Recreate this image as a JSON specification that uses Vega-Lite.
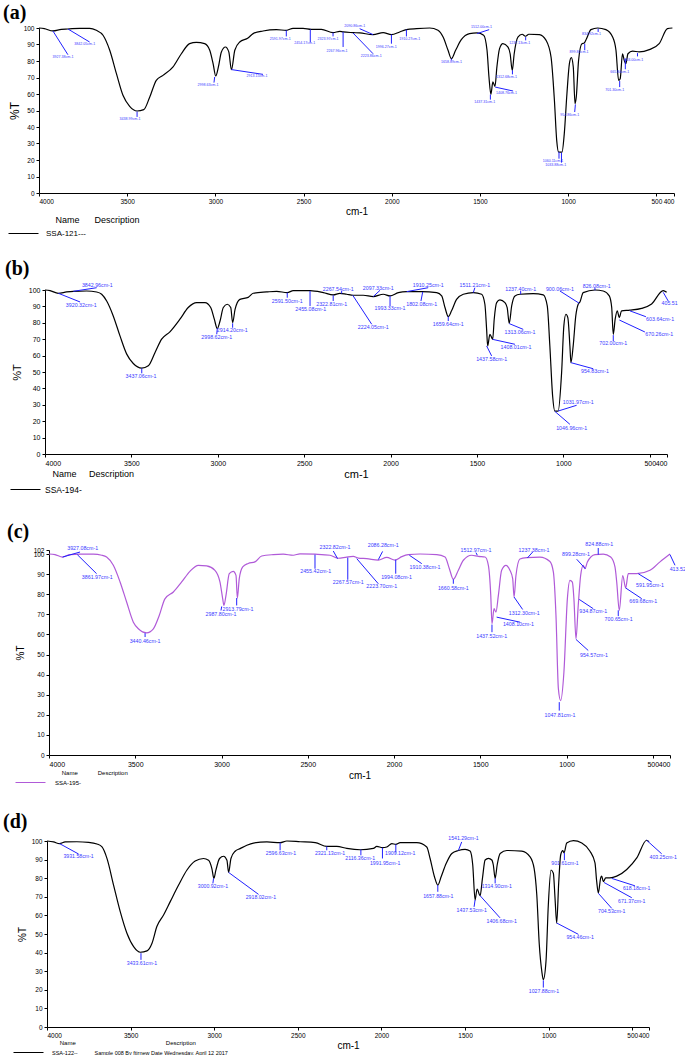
{
"$schema": "https://vega.github.io/schema/vega-lite/v6.json",
"padding": {"left": 0, "top": 3, "right": 0, "bottom": 0},
"spacing": 27,
"background": "white",
"resolve": {"scale": {"color": "independent"}, "legend": {"color": "independent"}},
"config": {
  "view": {"stroke": null},
  "axis": {"domainColor": "black", "tickColor": "black", "labelColor": "black", "titleColor": "black", "grid": false, "labelFont": "Liberation Sans", "titleFont": "Liberation Sans", "titleFontWeight": "normal", "tickSize": 3, "labelPadding": 2, "labelOverlap": false, "labelBound": false},
  "legend": {"orient": "none", "titleFont": "Liberation Sans", "labelFont": "Liberation Sans", "titleFontWeight": "normal", "titleColor": "black", "labelColor": "black", "symbolType": "stroke", "symbolSize": 900, "symbolStrokeWidth": 1, "padding": 0, "titleLimit": 600, "labelLimit": 600},
  "title": {"anchor": "start", "frame": "group", "font": "Liberation Serif", "fontSize": 20, "fontWeight": "bold", "color": "black"}
},
"datasets": {
"a": [{"w":4000,"t":100},{"w":3970,"t":99.6},{"w":3921,"t":98.2},{"w":3873,"t":99.2},{"w":3836,"t":99.4},{"w":3769,"t":99.8},{"w":3713,"t":99.8},{"w":3675,"t":98.6},{"w":3637,"t":95.6},{"w":3599,"t":86.5},{"w":3561,"t":72.3},{"w":3524,"t":59.2},{"w":3486,"t":52.5},{"w":3444,"t":49.7},{"w":3406,"t":50.5},{"w":3372,"t":58.2},{"w":3335,"t":68.3},{"w":3297,"t":71.3},{"w":3240,"t":76.4},{"w":3193,"t":84.4},{"w":3146,"t":90.5},{"w":3108,"t":91.3},{"w":3061,"t":90.5},{"w":3032,"t":86.5},{"w":3013,"t":78.4},{"w":2998,"t":70.9},{"w":2983,"t":76.4},{"w":2966,"t":85.5},{"w":2943,"t":88.5},{"w":2924,"t":85.5},{"w":2909,"t":74.7},{"w":2890,"t":86.5},{"w":2862,"t":91.5},{"w":2815,"t":93.9},{"w":2786,"t":96.6},{"w":2730,"t":98.2},{"w":2654,"t":99},{"w":2597,"t":98.6},{"w":2560,"t":99.8},{"w":2503,"t":99.8},{"w":2456,"t":99.2},{"w":2399,"t":99.2},{"w":2333,"t":97.2},{"w":2295,"t":98},{"w":2276,"t":97.6},{"w":2219,"t":97.2},{"w":2181,"t":97},{"w":2106,"t":96},{"w":2049,"t":97.2},{"w":2002,"t":96},{"w":1955,"t":97.6},{"w":1917,"t":99},{"w":1860,"t":99.6},{"w":1785,"t":100},{"w":1738,"t":98.6},{"w":1709,"t":94.5},{"w":1681,"t":86.5},{"w":1662,"t":81.4},{"w":1638,"t":86.5},{"w":1606,"t":92.9},{"w":1559,"t":96.6},{"w":1517,"t":97},{"w":1479,"t":95.6},{"w":1460,"t":86.5},{"w":1449,"t":70.3},{"w":1438,"t":59.8},{"w":1427,"t":67.3},{"w":1415,"t":64.6},{"w":1404,"t":76.4},{"w":1389,"t":87.5},{"w":1370,"t":90.5},{"w":1342,"t":88.5},{"w":1329,"t":84.4},{"w":1317,"t":74.3},{"w":1306,"t":84.4},{"w":1285,"t":94.5},{"w":1261,"t":96.2},{"w":1242,"t":95},{"w":1223,"t":96.2},{"w":1163,"t":96},{"w":1125,"t":92.5},{"w":1097,"t":82.4},{"w":1078,"t":56.2},{"w":1065,"t":31.9},{"w":1054,"t":24.8},{"w":1035,"t":24.8},{"w":1022,"t":36},{"w":1007,"t":60.2},{"w":993,"t":78.4},{"w":982,"t":82},{"w":971,"t":76.4},{"w":961,"t":54.1},{"w":954,"t":58.2},{"w":941,"t":80.4},{"w":922,"t":90.5},{"w":909,"t":90.9},{"w":896,"t":93.5},{"w":871,"t":99},{"w":833,"t":100},{"w":786,"t":99},{"w":748,"t":94.5},{"w":729,"t":86.5},{"w":714,"t":68.3},{"w":705,"t":69.3},{"w":692,"t":84.4},{"w":682,"t":80.4},{"w":673,"t":78.4},{"w":661,"t":84.4},{"w":635,"t":86},{"w":597,"t":85.5},{"w":540,"t":86.9},{"w":484,"t":90.5},{"w":437,"t":99.6},{"w":409,"t":100}],
"la": [{"l":"3927.38cm-1","w":3921,"t":98.2,"ew":3836,"et":83.8,"lw":3864,"lt":82.4},{"l":"3842.05cm-1","w":3836,"t":99.4,"ew":3713,"et":91.5,"lw":3741,"lt":90.5},{"l":"3438.99cm-1","w":3444,"t":49.3,"ew":3444,"et":46.1,"lw":3484,"lt":44.9},{"l":"2998.63cm-1","w":3004,"t":70.3,"ew":3008,"et":66.9,"lw":3042,"lt":65.3},{"l":"2913.15cm-1","w":2909,"t":74.8,"ew":2730,"et":71.9,"lw":2764,"lt":70.7},{"l":"2591.97cm-1","w":2598,"t":98.6,"ew":2598,"et":94.9,"lw":2632,"lt":93.5},{"l":"2454.17cm-1","w":2462,"t":99.2,"ew":2462,"et":91.5,"lw":2494,"lt":90.9},{"l":"2323.97cm-1","w":2333,"t":97.2,"ew":2333,"et":94.9,"lw":2361,"lt":93.5},{"l":"2267.96cm-1","w":2276,"t":97.6,"ew":2276,"et":88.5,"lw":2310,"lt":86.1},{"l":"2090.86cm-1","w":2106,"t":96,"ew":2182,"et":99.6,"lw":2210,"lt":101},{"l":"2223.86cm-1","w":2220,"t":97,"ew":2106,"et":84.4,"lw":2116,"lt":83},{"l":"1996.27cm-1","w":2002,"t":96,"ew":2002,"et":90.5,"lw":2031,"lt":88.5},{"l":"1910.27cm-1","w":1917,"t":99,"ew":1917,"et":94.9,"lw":1898,"lt":93.5},{"l":"1658.89cm-1","w":1662,"t":81.4,"ew":1662,"et":80.4,"lw":1662,"lt":79.2},{"l":"1512.00cm-1","w":1517,"t":96.6,"ew":1448,"et":99,"lw":1492,"lt":100.6},{"l":"1437.31cm-1","w":1441,"t":59.6,"ew":1441,"et":56.6,"lw":1473,"lt":55.2},{"l":"1408.76cm-1","w":1414,"t":64.2,"ew":1312,"et":61.8,"lw":1350,"lt":60.6},{"l":"1312.68cm-1","w":1316,"t":74.3,"ew":1316,"et":71.9,"lw":1350,"lt":70.3},{"l":"1237.13cm-1","w":1241,"t":94.5,"ew":1241,"et":92.5,"lw":1275,"lt":90.9},{"l":"1060.11cm-1","w":1052,"t":24.9,"ew":1052,"et":20.8,"lw":1086,"lt":19.4},{"l":"1033.88cm-1","w":1038,"t":24.4,"ew":1038,"et":18.4,"lw":1071,"lt":17.2},{"l":"954.86cm-1","w":959,"t":53.7,"ew":963,"et":49.1,"lw":991,"lt":47.5},{"l":"899.80cm-1","w":906,"t":90.5,"ew":906,"et":86.5,"lw":938,"lt":85.5},{"l":"834.92cm-1","w":830,"t":99.6,"ew":830,"et":97.6,"lw":868,"lt":96.2},{"l":"701.30cm-1","w":708,"t":67.9,"ew":708,"et":64.2,"lw":736,"lt":62.6},{"l":"665.84cm-1","w":676,"t":81.4,"ew":676,"et":75,"lw":708,"lt":73.3},{"l":"603.00cm-1","w":607,"t":84.8,"ew":607,"et":82.8,"lw":628,"lt":80.4}],
"b": [{"w":4000,"t":100},{"w":3971,"t":99.6},{"w":3923,"t":98},{"w":3875,"t":98.8},{"w":3836,"t":99.2},{"w":3759,"t":99.4},{"w":3701,"t":98.8},{"w":3672,"t":97.4},{"w":3643,"t":93.3},{"w":3605,"t":84.2},{"w":3566,"t":72},{"w":3527,"t":60.9},{"w":3489,"t":55.2},{"w":3440,"t":52.4},{"w":3402,"t":53.8},{"w":3363,"t":61.9},{"w":3325,"t":70},{"w":3277,"t":74.5},{"w":3219,"t":82.2},{"w":3171,"t":89.3},{"w":3122,"t":92.3},{"w":3074,"t":92.3},{"w":3041,"t":89.3},{"w":3020,"t":82.2},{"w":3003,"t":76.5},{"w":2987,"t":81.1},{"w":2968,"t":89.3},{"w":2945,"t":91.3},{"w":2925,"t":89.3},{"w":2914,"t":80.1},{"w":2900,"t":88.2},{"w":2872,"t":94.3},{"w":2824,"t":95.5},{"w":2795,"t":98},{"w":2717,"t":98.8},{"w":2659,"t":99.2},{"w":2598,"t":98.4},{"w":2563,"t":99.6},{"w":2466,"t":99.6},{"w":2389,"t":98.4},{"w":2332,"t":97},{"w":2293,"t":98},{"w":2254,"t":97.4},{"w":2216,"t":96.8},{"w":2158,"t":96.8},{"w":2100,"t":96},{"w":2042,"t":97.4},{"w":2003,"t":96.4},{"w":1955,"t":98.4},{"w":1907,"t":99},{"w":1820,"t":99},{"w":1733,"t":98.4},{"w":1704,"t":96.4},{"w":1685,"t":89.3},{"w":1666,"t":83.8},{"w":1647,"t":87.3},{"w":1618,"t":94.3},{"w":1579,"t":97.4},{"w":1521,"t":98.4},{"w":1473,"t":97.4},{"w":1454,"t":91.3},{"w":1444,"t":76},{"w":1438,"t":65.9},{"w":1425,"t":73},{"w":1409,"t":69.9},{"w":1400,"t":82.2},{"w":1386,"t":92.3},{"w":1367,"t":94},{"w":1338,"t":92.3},{"w":1325,"t":89.3},{"w":1313,"t":79.7},{"w":1299,"t":90.3},{"w":1280,"t":96.4},{"w":1251,"t":97.4},{"w":1174,"t":97.8},{"w":1116,"t":97},{"w":1093,"t":90.3},{"w":1078,"t":65.9},{"w":1062,"t":35.4},{"w":1049,"t":26.2},{"w":1030,"t":26.2},{"w":1010,"t":49.6},{"w":997,"t":78.1},{"w":985,"t":85.2},{"w":974,"t":83.2},{"w":962,"t":65.9},{"w":956,"t":55.7},{"w":943,"t":65.9},{"w":928,"t":84.2},{"w":914,"t":91.3},{"w":904,"t":92.7},{"w":885,"t":98.4},{"w":817,"t":100},{"w":769,"t":99.4},{"w":734,"t":96.4},{"w":720,"t":89.3},{"w":711,"t":73},{"w":700,"t":82.2},{"w":688,"t":87.3},{"w":676,"t":83.2},{"w":663,"t":87.3},{"w":615,"t":87.7},{"w":547,"t":88.8},{"w":489,"t":91.5},{"w":422,"t":99.6},{"w":402,"t":98.6}],
"lb": [{"l":"3920.32cm-1","w":3923,"t":98,"ew":3797,"et":92.7,"lw":3790,"lt":90.9},{"l":"3842.96cm-1","w":3836,"t":99.2,"ew":3701,"et":101.4,"lw":3697,"lt":103},{"l":"3437.06cm-1","w":3440,"t":52.2,"ew":3440,"et":49.2,"lw":3444,"lt":47.6},{"l":"2998.62cm-1","w":3003,"t":76.2,"ew":3006,"et":73,"lw":3006,"lt":71.6},{"l":"2914.20cm-1","w":2914,"t":79.7,"ew":2914,"et":77,"lw":2916,"lt":75.6},{"l":"2591.50cm-1","w":2598,"t":98.4,"ew":2598,"et":95.3,"lw":2598,"lt":93.3},{"l":"2455.08cm-1","w":2466,"t":99.4,"ew":2466,"et":90.2,"lw":2462,"lt":88.2},{"l":"2322.81cm-1","w":2332,"t":96.8,"ew":2332,"et":93.3,"lw":2341,"lt":91.3},{"l":"2267.54cm-1","w":2283,"t":97.8,"ew":2283,"et":99.5,"lw":2303,"lt":100.8},{"l":"2224.05cm-1","w":2219,"t":96.8,"ew":2109,"et":79.1,"lw":2100,"lt":77.4},{"l":"2097.33cm-1","w":2100,"t":96,"ew":2061,"et":99.8,"lw":2071,"lt":101.4},{"l":"1993.33cm-1","w":2003,"t":96.4,"ew":2003,"et":90.2,"lw":2003,"lt":88.8},{"l":"1910.25cm-1","w":1907,"t":99,"ew":1782,"et":101.4,"lw":1782,"lt":102.9},{"l":"1802.08cm-1","w":1814,"t":98.8,"ew":1824,"et":93.3,"lw":1820,"lt":91.5},{"l":"1659.64cm-1","w":1666,"t":83.8,"ew":1666,"et":81.1,"lw":1666,"lt":79.5},{"l":"1511.21cm-1","w":1521,"t":98.4,"ew":1512,"et":101.4,"lw":1512,"lt":103},{"l":"1437.58cm-1","w":1444,"t":65.9,"ew":1415,"et":59.8,"lw":1415,"lt":58.1},{"l":"1408.01cm-1","w":1409,"t":69.9,"ew":1280,"et":66.9,"lw":1274,"lt":65.4},{"l":"1313.06cm-1","w":1313,"t":79.5,"ew":1232,"et":76,"lw":1251,"lt":74.6},{"l":"1237.40cm-1","w":1247,"t":97.4,"ew":1247,"et":99.4,"lw":1247,"lt":100.8},{"l":"1046.96cm-1","w":1049,"t":26,"ew":962,"et":18.1,"lw":952,"lt":16},{"l":"1031.97cm-1","w":1030,"t":26.2,"ew":923,"et":29.7,"lw":914,"lt":31.7},{"l":"954.83cm-1","w":956,"t":55.7,"ew":827,"et":52,"lw":817,"lt":50.8},{"l":"900.06cm-1","w":908,"t":91.9,"ew":1020,"et":99.4,"lw":1020,"lt":100.8},{"l":"826.08cm-1","w":817,"t":99.8,"ew":817,"et":101.4,"lw":807,"lt":102.6},{"l":"702.00cm-1","w":711,"t":72.5,"ew":711,"et":68.9,"lw":711,"lt":67.5},{"l":"670.26cm-1","w":676,"t":81.7,"ew":528,"et":74.4,"lw":445,"lt":73},{"l":"603.64cm-1","w":615,"t":87.3,"ew":522,"et":83.7,"lw":440,"lt":82.5},{"l":"405.51","w":422,"t":98.6,"ew":393,"et":93.3,"lw":385,"lt":91.9}],
"c": [{"w":4000,"t":100},{"w":3965,"t":99.7},{"w":3921,"t":98.5},{"w":3878,"t":99.7},{"w":3820,"t":99.9},{"w":3743,"t":99.9},{"w":3694,"t":99.4},{"w":3666,"t":98.5},{"w":3627,"t":94.4},{"w":3588,"t":86.1},{"w":3550,"t":76.1},{"w":3511,"t":66.1},{"w":3482,"t":62.8},{"w":3434,"t":60.8},{"w":3395,"t":62.8},{"w":3361,"t":69.4},{"w":3328,"t":77.7},{"w":3279,"t":81.1},{"w":3231,"t":86.1},{"w":3183,"t":91.4},{"w":3134,"t":94.4},{"w":3086,"t":94.1},{"w":3038,"t":91.9},{"w":3009,"t":86.1},{"w":2993,"t":77.7},{"w":2986,"t":74.4},{"w":2974,"t":79.4},{"w":2955,"t":90.2},{"w":2932,"t":91.4},{"w":2916,"t":89.4},{"w":2908,"t":78.1},{"w":2897,"t":87.8},{"w":2877,"t":93.6},{"w":2845,"t":95.3},{"w":2806,"t":96.1},{"w":2767,"t":99},{"w":2700,"t":99.7},{"w":2642,"t":99.9},{"w":2584,"t":99.4},{"w":2545,"t":100.1},{"w":2458,"t":99.9},{"w":2371,"t":99.4},{"w":2323,"t":97.9},{"w":2274,"t":98.5},{"w":2236,"t":98.8},{"w":2207,"t":98},{"w":2158,"t":97.7},{"w":2091,"t":97},{"w":2042,"t":98.3},{"w":1994,"t":97},{"w":1955,"t":98.7},{"w":1917,"t":99.7},{"w":1849,"t":100},{"w":1752,"t":99.7},{"w":1704,"t":98.5},{"w":1679,"t":92.7},{"w":1656,"t":87.4},{"w":1627,"t":91.9},{"w":1598,"t":96.9},{"w":1550,"t":99.4},{"w":1511,"t":98.8},{"w":1472,"t":98.5},{"w":1453,"t":94.4},{"w":1439,"t":79.4},{"w":1432,"t":65.3},{"w":1420,"t":72.8},{"w":1409,"t":71.1},{"w":1395,"t":79.4},{"w":1376,"t":91.9},{"w":1351,"t":94.4},{"w":1328,"t":91.9},{"w":1312,"t":87.8},{"w":1304,"t":78.6},{"w":1293,"t":89.3},{"w":1270,"t":97.5},{"w":1231,"t":98.2},{"w":1154,"t":98.5},{"w":1096,"t":96.3},{"w":1076,"t":91},{"w":1061,"t":69.4},{"w":1047,"t":32.9},{"w":1034,"t":27.1},{"w":1015,"t":41.2},{"w":995,"t":77.7},{"w":980,"t":86.9},{"w":966,"t":86},{"w":957,"t":77.7},{"w":945,"t":57.8},{"w":932,"t":74.4},{"w":918,"t":89.3},{"w":903,"t":94.4},{"w":893,"t":92.7},{"w":879,"t":96},{"w":835,"t":99.7},{"w":787,"t":99.9},{"w":744,"t":98.5},{"w":719,"t":93.6},{"w":709,"t":86.2},{"w":694,"t":72},{"w":674,"t":89.3},{"w":657,"t":83.1},{"w":642,"t":90.2},{"w":593,"t":90.2},{"w":516,"t":91.9},{"w":458,"t":96.1},{"w":400,"t":100}],
"lc": [{"l":"3927.08cm-1","w":3921,"t":98.5,"ew":3820,"et":101,"lw":3805,"lt":103.2},{"l":"3861.97cm-1","w":3836,"t":99.7,"ew":3724,"et":90.2,"lw":3720,"lt":88.7},{"l":"3440.46cm-1","w":3443,"t":60.6,"ew":3443,"et":58.7,"lw":3443,"lt":56.8},{"l":"2987.80cm-1","w":2999,"t":73.9,"ew":3003,"et":71.9,"lw":3003,"lt":70.1},{"l":"2913.79cm-1","w":2912,"t":78.1,"ew":2912,"et":74.4,"lw":2905,"lt":72.8},{"l":"2455.42cm-1","w":2458,"t":99.7,"ew":2458,"et":92.7,"lw":2454,"lt":91.4},{"l":"2322.82cm-1","w":2327,"t":97.7,"ew":2352,"et":101.5,"lw":2342,"lt":103.5},{"l":"2267.57cm-1","w":2268,"t":98.2,"ew":2268,"et":87.2,"lw":2265,"lt":86},{"l":"2223.70cm-1","w":2216,"t":97.7,"ew":2091,"et":85.2,"lw":2071,"lt":84},{"l":"2086.28cm-1","w":2091,"t":97.2,"ew":2066,"et":101.3,"lw":2063,"lt":104.3},{"l":"1994.08cm-1","w":1990,"t":97.2,"ew":1990,"et":90.2,"lw":1985,"lt":88.5},{"l":"1910.38cm-1","w":1911,"t":99.4,"ew":1839,"et":95.2,"lw":1820,"lt":93.5},{"l":"1660.58cm-1","w":1656,"t":87.4,"ew":1656,"et":85.2,"lw":1656,"lt":83.3},{"l":"1512.97cm-1","w":1517,"t":99.4,"ew":1525,"et":100.7,"lw":1525,"lt":102.2},{"l":"1437.52cm-1","w":1432,"t":64.9,"ew":1432,"et":61.1,"lw":1434,"lt":59.3},{"l":"1408.10cm-1","w":1405,"t":68.6,"ew":1270,"et":66.1,"lw":1279,"lt":65.1},{"l":"1312.30cm-1","w":1304,"t":78.6,"ew":1254,"et":72.4,"lw":1245,"lt":70.9},{"l":"1237.38cm-1","w":1227,"t":98,"ew":1196,"et":101,"lw":1188,"lt":101.8},{"l":"1047.81cm-1","w":1042,"t":26.3,"ew":1042,"et":22.1,"lw":1038,"lt":20.1},{"l":"954.57cm-1","w":945,"t":57.5,"ew":874,"et":52,"lw":841,"lt":50},{"l":"934.87cm-1","w":926,"t":77.4,"ew":845,"et":72.8,"lw":845,"lt":71.8},{"l":"899.28cm-1","w":891,"t":92.7,"ew":941,"et":97.4,"lw":945,"lt":99.9},{"l":"824.88cm-1","w":816,"t":99.7,"ew":816,"et":103,"lw":810,"lt":105.2},{"l":"700.65cm-1","w":700,"t":72,"ew":700,"et":69.1,"lw":698,"lt":67.5},{"l":"669.68cm-1","w":657,"t":83.1,"ew":564,"et":77.8,"lw":555,"lt":76.4},{"l":"591.95cm-1","w":584,"t":90.2,"ew":506,"et":86.1,"lw":516,"lt":84.4},{"l":"413.52","w":400,"t":99.7,"ew":371,"et":94.4,"lw":355,"lt":92.4}],
"d": [{"w":4000,"t":100},{"w":3961,"t":99.5},{"w":3925,"t":98.6},{"w":3891,"t":99.5},{"w":3821,"t":99.6},{"w":3751,"t":99.3},{"w":3701,"t":98.4},{"w":3671,"t":96.8},{"w":3641,"t":90.5},{"w":3602,"t":76.3},{"w":3562,"t":62},{"w":3522,"t":50.4},{"w":3482,"t":43.2},{"w":3442,"t":40.2},{"w":3402,"t":40.9},{"w":3372,"t":45},{"w":3343,"t":54},{"w":3303,"t":60.2},{"w":3263,"t":67.4},{"w":3213,"t":76.3},{"w":3163,"t":84.4},{"w":3114,"t":89.2},{"w":3064,"t":90.6},{"w":3034,"t":89.7},{"w":3014,"t":85.2},{"w":3002,"t":79.9},{"w":2990,"t":84.3},{"w":2968,"t":90.6},{"w":2944,"t":91.8},{"w":2924,"t":89.7},{"w":2914,"t":83.1},{"w":2900,"t":90.6},{"w":2875,"t":94.5},{"w":2845,"t":95.9},{"w":2805,"t":97.7},{"w":2765,"t":98.9},{"w":2685,"t":99.5},{"w":2606,"t":99.1},{"w":2566,"t":100},{"w":2486,"t":99.6},{"w":2396,"t":99.1},{"w":2327,"t":97.1},{"w":2267,"t":97.1},{"w":2207,"t":96},{"w":2127,"t":95.3},{"w":2048,"t":96},{"w":2028,"t":97.1},{"w":1994,"t":96.4},{"w":1968,"t":96.8},{"w":1938,"t":98.6},{"w":1914,"t":98.2},{"w":1888,"t":99.1},{"w":1789,"t":99.1},{"w":1729,"t":96.8},{"w":1709,"t":90.6},{"w":1683,"t":80.8},{"w":1663,"t":76.3},{"w":1643,"t":80.8},{"w":1613,"t":87.9},{"w":1579,"t":93.3},{"w":1540,"t":94.9},{"w":1500,"t":95.5},{"w":1470,"t":94.6},{"w":1454,"t":87.1},{"w":1440,"t":68.3},{"w":1428,"t":74.2},{"w":1410,"t":70.6},{"w":1396,"t":79.9},{"w":1380,"t":89.8},{"w":1360,"t":90.7},{"w":1340,"t":89.8},{"w":1331,"t":87.1},{"w":1320,"t":79.9},{"w":1308,"t":87.1},{"w":1290,"t":93.3},{"w":1250,"t":94.9},{"w":1161,"t":94.6},{"w":1111,"t":91.5},{"w":1087,"t":85.3},{"w":1071,"t":71},{"w":1056,"t":44.2},{"w":1041,"t":29.9},{"w":1032,"t":25.5},{"w":1016,"t":35.3},{"w":1002,"t":65.7},{"w":986,"t":84.4},{"w":972,"t":82.7},{"w":962,"t":69.3},{"w":952,"t":55.9},{"w":940,"t":77.4},{"w":928,"t":92.6},{"w":916,"t":94.8},{"w":908,"t":93.6},{"w":892,"t":98.9},{"w":852,"t":100.2},{"w":802,"t":98.9},{"w":753,"t":94.5},{"w":723,"t":88.2},{"w":713,"t":78.4},{"w":703,"t":72.1},{"w":689,"t":80.2},{"w":683,"t":81.1},{"w":673,"t":78.1},{"w":659,"t":80.2},{"w":634,"t":80.2},{"w":593,"t":81.1},{"w":533,"t":84.7},{"w":473,"t":90.9},{"w":414,"t":100.4},{"w":400,"t":99.6}],
"ld": [{"l":"3931.58cm-1","w":3925,"t":98.6,"ew":3811,"et":93,"lw":3811,"lt":92},{"l":"3433.61cm-1","w":3438,"t":39.7,"ew":3438,"et":36.1,"lw":3432,"lt":34.6},{"l":"3000.92cm-1","w":3004,"t":79.9,"ew":3008,"et":77.2,"lw":3008,"lt":75.6},{"l":"2918.02cm-1","w":2914,"t":83.1,"ew":2735,"et":71.3,"lw":2721,"lt":70},{"l":"2596.63cm-1","w":2606,"t":99.1,"ew":2606,"et":95,"lw":2601,"lt":93.6},{"l":"2321.13cm-1","w":2327,"t":97.1,"ew":2327,"et":95,"lw":2307,"lt":93.6},{"l":"2116.36cm-1","w":2123,"t":95.4,"ew":2123,"et":92.3,"lw":2127,"lt":91.1},{"l":"1991.95cm-1","w":1994,"t":96.4,"ew":1994,"et":90.6,"lw":1978,"lt":88.4},{"l":"1909.12cm-1","w":1914,"t":98.2,"ew":1914,"et":93.8,"lw":1888,"lt":93.6},{"l":"1657.88cm-1","w":1663,"t":76.3,"ew":1663,"et":72.7,"lw":1660,"lt":70.5},{"l":"1541.29cm-1","w":1540,"t":94.9,"ew":1520,"et":99.5,"lw":1510,"lt":101.6},{"l":"1437.53cm-1","w":1440,"t":68.3,"ew":1446,"et":64.6,"lw":1460,"lt":62.9},{"l":"1406.68cm-1","w":1410,"t":70.6,"ew":1291,"et":58.7,"lw":1281,"lt":57},{"l":"1314.90cm-1","w":1320,"t":79.9,"ew":1320,"et":77.2,"lw":1310,"lt":75.7},{"l":"1027.88cm-1","w":1032,"t":25.1,"ew":1032,"et":21.2,"lw":1028,"lt":19.1},{"l":"954.46cm-1","w":952,"t":55.9,"ew":822,"et":49.8,"lw":812,"lt":48.6},{"l":"901.61cm-1","w":906,"t":93.6,"ew":906,"et":89.7,"lw":902,"lt":88.4},{"l":"704.53cm-1","w":703,"t":71.9,"ew":623,"et":63.8,"lw":623,"lt":62.3},{"l":"671.37cm-1","w":669,"t":77.7,"ew":503,"et":69.5,"lw":503,"lt":68},{"l":"618.18cm-1","w":623,"t":79.9,"ew":484,"et":75.9,"lw":474,"lt":74.5},{"l":"403.25cm-1","w":414,"t":100.4,"ew":324,"et":93.1,"lw":315,"lt":91.3}]
},
"vconcat": [
{"spacing": 21, "resolve": {"scale": {"color": "independent"}, "legend": {"color": "independent"}}, "vconcat": [
{"spacing": 0, "resolve": {"scale": {"color": "independent"}, "legend": {"color": "independent"}}, "hconcat": [
{"width": 3, "height": 1, "data": {"values": []}, "mark": "point"},
{
 "title": {"text": "(a)", "dx": -36, "offset": 1},
 "width": 635, "height": 165,
 "layer": [
  {"data": {"name": "a"}, "mark": {"type": "line", "strokeWidth": 1.2, "interpolate": "monotone"},
   "encoding": {
    "x": {"field": "w", "type": "quantitative", "scale": {"domain": [400, 4000], "reverse": true, "nice": false, "zero": false}, "axis": {"values": [4000, 3500, 3000, 2500, 2000, 1500, 1000, 500, 400], "tickCount": 50, "format": "d", "title": "cm-1", "titleFontSize": 10, "labelFontSize": 6.5, "titlePadding": 2, "labelOverlap": false}},
    "y": {"field": "t", "type": "quantitative", "scale": {"domain": [0, 100], "nice": false}, "axis": {"values": [0, 10, 20, 30, 40, 50, 60, 70, 80, 90, 100], "tickCount": 50, "title": "%T", "titleFontSize": 12, "labelFontSize": 6.5, "titlePadding": 2, "labelOverlap": false}},
    "color": {"datum": "SSA-121---", "type": "nominal", "scale": {"range": ["black"]}, "legend": {"legendX": -31, "legendY": 188, "title": "\u200b\u00a0\u00a0\u00a0\u00a0\u00a0\u00a0\u00a0\u00a0\u00a0\u00a0\u00a0\u00a0\u00a0\u00a0\u00a0\u00a0\u00a0\u00a0\u00a0Name\u00a0\u00a0\u00a0\u00a0\u00a0\u00a0Description", "titleFontSize": 9, "labelFontSize": 8, "labelOffset": 7, "titlePadding": -7}}
   }},
  {"data": {"name": "la"}, "mark": {"type": "rule", "color": "#2020ff", "strokeWidth": 1},
   "encoding": {"x": {"field": "w", "type": "quantitative"}, "y": {"field": "t", "type": "quantitative"}, "x2": {"field": "ew"}, "y2": {"field": "et"}}},
  {"data": {"name": "la"}, "mark": {"type": "text", "color": "#3a3aff", "fontSize": 3.6, "font": "Liberation Sans"},
   "encoding": {"x": {"field": "lw", "type": "quantitative"}, "y": {"field": "lt", "type": "quantitative"}, "text": {"field": "l"}}}
 ]
}]},
{"spacing": 0, "resolve": {"scale": {"color": "independent"}, "legend": {"color": "independent"}}, "hconcat": [
{"width": 5, "height": 1, "data": {"values": []}, "mark": "point"},
{
 "title": {"text": "(b)", "dx": -40, "offset": 4},
 "width": 622, "height": 164,
 "layer": [
  {"data": {"name": "b"}, "mark": {"type": "line", "strokeWidth": 1.2, "interpolate": "monotone"},
   "encoding": {
    "x": {"field": "w", "type": "quantitative", "scale": {"domain": [400, 4000], "reverse": true, "nice": false, "zero": false}, "axis": {"values": [4000, 3500, 3000, 2500, 2000, 1500, 1000, 500, 400], "tickCount": 50, "format": "d", "title": "cm-1", "titleFontSize": 11, "labelFontSize": 7, "titlePadding": 2, "labelOverlap": false}},
    "y": {"field": "t", "type": "quantitative", "scale": {"domain": [0, 100], "nice": false}, "axis": {"values": [0, 10, 20, 30, 40, 50, 60, 70, 80, 90, 100], "tickCount": 50, "title": "%T", "titleFontSize": 11, "labelFontSize": 7, "titlePadding": 6, "labelOverlap": false}},
    "color": {"datum": "SSA-194-", "type": "nominal", "scale": {"range": ["black"]}, "legend": {"legendX": -35, "legendY": 180, "title": "\u200b\u00a0\u00a0\u00a0\u00a0\u00a0\u00a0\u00a0\u00a0\u00a0\u00a0\u00a0\u00a0\u00a0\u00a0\u00a0\u00a0\u00a0Name\u00a0\u00a0\u00a0\u00a0\u00a0Description", "titleFontSize": 9, "labelFontSize": 8.5, "labelOffset": 4, "titlePadding": -5}}
   }},
  {"data": {"name": "lb"}, "mark": {"type": "rule", "color": "#2020ff", "strokeWidth": 1},
   "encoding": {"x": {"field": "w", "type": "quantitative"}, "y": {"field": "t", "type": "quantitative"}, "x2": {"field": "ew"}, "y2": {"field": "et"}}},
  {"data": {"name": "lb"}, "mark": {"type": "text", "color": "#3a3aff", "fontSize": 5.3, "font": "Liberation Sans"},
   "encoding": {"x": {"field": "lw", "type": "quantitative"}, "y": {"field": "lt", "type": "quantitative"}, "text": {"field": "l"}}}
 ]
}]}
]},
{"spacing": 26, "resolve": {"scale": {"color": "independent"}, "legend": {"color": "independent"}}, "vconcat": [
{"spacing": 0, "resolve": {"scale": {"color": "independent"}, "legend": {"color": "independent"}}, "hconcat": [
{"width": 7, "height": 1, "data": {"values": []}, "mark": "point"},
{
 "title": {"text": "(c)", "dx": -42, "offset": 0},
 "width": 621, "height": 205,
 "layer": [
  {"data": {"name": "c"}, "mark": {"type": "line", "strokeWidth": 1.2, "interpolate": "monotone"},
   "encoding": {
    "x": {"field": "w", "type": "quantitative", "scale": {"domain": [400, 4000], "reverse": true, "nice": false, "zero": false}, "axis": {"values": [4000, 3500, 3000, 2500, 2000, 1500, 1000, 500, 400], "tickCount": 50, "format": "d", "title": "cm-1", "titleFontSize": 10, "labelFontSize": 7, "titlePadding": 3, "labelOverlap": false}},
    "y": {"field": "t", "type": "quantitative", "scale": {"domain": [0, 102], "nice": false}, "axis": {"values": [0, 10, 20, 30, 40, 50, 60, 70, 80, 90, 100, 102], "tickCount": 50, "title": "%T", "titleFontSize": 10, "labelFontSize": 6.5, "titlePadding": 8, "labelOverlap": false}},
    "color": {"datum": "SSA-195-", "type": "nominal", "scale": {"range": ["#b05ad8"]}, "legend": {"legendX": -34, "legendY": 220, "title": "\u200b\u2007\u2007\u2007\u2007\u2007\u2007\u2007\u2007\u2007\u2007\u2007\u2007\u2007\u2007Name\u2007\u2007\u2007\u2007\u2007\u2007Description", "titleFontSize": 6, "labelFontSize": 6, "labelOffset": 9, "titlePadding": -9}}
   }},
  {"data": {"name": "lc"}, "mark": {"type": "rule", "color": "#2020ff", "strokeWidth": 1},
   "encoding": {"x": {"field": "w", "type": "quantitative"}, "y": {"field": "t", "type": "quantitative"}, "x2": {"field": "ew"}, "y2": {"field": "et"}}},
  {"data": {"name": "lc"}, "mark": {"type": "text", "color": "#3a3aff", "fontSize": 5.3, "font": "Liberation Sans"},
   "encoding": {"x": {"field": "lw", "type": "quantitative"}, "y": {"field": "lt", "type": "quantitative"}, "text": {"field": "l"}}}
 ]
}]},
{"spacing": 0, "resolve": {"scale": {"color": "independent"}, "legend": {"color": "independent"}}, "hconcat": [
{"width": 3, "height": 1, "data": {"values": []}, "mark": "point"},
{
 "title": {"text": "(d)", "dx": -44, "offset": 4},
 "width": 602, "height": 186,
 "layer": [
  {"data": {"name": "d"}, "mark": {"type": "line", "strokeWidth": 1.2, "interpolate": "monotone"},
   "encoding": {
    "x": {"field": "w", "type": "quantitative", "scale": {"domain": [400, 4000], "reverse": true, "nice": false, "zero": false}, "axis": {"values": [4000, 3500, 3000, 2500, 2000, 1500, 1000, 500, 400], "tickCount": 50, "format": "d", "title": "cm-1", "titleFontSize": 10, "labelFontSize": 6.5, "titlePadding": 2, "labelOverlap": false}},
    "y": {"field": "t", "type": "quantitative", "scale": {"domain": [0, 100], "nice": false}, "axis": {"values": [0, 10, 20, 30, 40, 50, 60, 70, 80, 90, 100], "tickCount": 50, "title": "%T", "titleFontSize": 10, "labelFontSize": 6.5, "titlePadding": 4, "labelOverlap": false}},
    "color": {"datum": "SSA-122--\u00a0\u00a0\u00a0\u00a0\u00a0\u00a0\u00a0\u00a0\u00a0\u00a0\u00a0Sample 008 By ftirnew Date Wednesday, April 12 2017", "type": "nominal", "scale": {"range": ["black"]}, "legend": {"legendX": -34, "legendY": 199, "title": "\u200b\u2007\u2007\u2007\u2007\u2007\u2007\u2007\u2007\u2007\u2007\u2007\u2007\u2007\u2007Name\u2007\u2007\u2007\u2007\u2007\u2007\u2007\u2007\u2007\u2007\u2007\u2007\u2007\u2007\u2007\u2007\u2007\u2007\u2007\u2007\u2007\u2007\u2007\u2007\u2007\u2007\u2007Description", "titleFontSize": 6, "labelFontSize": 5.5, "labelOffset": 8, "titlePadding": -9}}
   }},
  {"data": {"name": "ld"}, "mark": {"type": "rule", "color": "#2020ff", "strokeWidth": 1},
   "encoding": {"x": {"field": "w", "type": "quantitative"}, "y": {"field": "t", "type": "quantitative"}, "x2": {"field": "ew"}, "y2": {"field": "et"}}},
  {"data": {"name": "ld"}, "mark": {"type": "text", "color": "#3a3aff", "fontSize": 5.2, "font": "Liberation Sans"},
   "encoding": {"x": {"field": "lw", "type": "quantitative"}, "y": {"field": "lt", "type": "quantitative"}, "text": {"field": "l"}}}
 ]
}]}
]}
]
}
